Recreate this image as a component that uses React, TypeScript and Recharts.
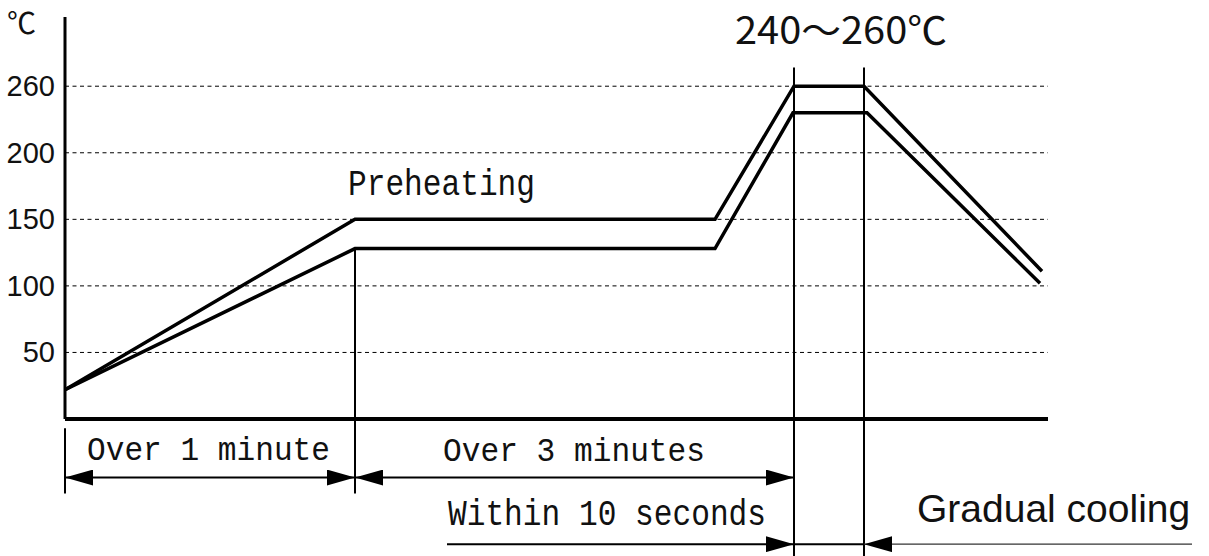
import React from 'react';
import { ComposedChart, Line, XAxis, YAxis, CartesianGrid, ReferenceLine } from 'recharts';

// schematic time units along the x axis, temperatures in °C
const upperTime = [0, 290, 650, 729, 799, 977];
const upperTemp = [22, 150, 150, 260, 260, 111];
const lowerTime = [0, 290, 650, 728, 802, 975];
const lowerTemp = [22, 128, 128, 236, 236, 102];
const tempTicks = [50, 100, 150, 200, 260];

// key times used by the dimension arrows
const preheatStart = 290;
const peakStart = 729;
const peakEnd = 799;
const withinStart = 382;
const coolingEnd = 1127;

// the drawing squeezes 200..260 into one grid step
const toAxis = (t: number) => (t <= 200 ? t : 200 + ((t - 200) * 50) / 60);
const fromAxis = (v: number) => Math.round(v <= 200 ? v : 200 + ((v - 200) * 60) / 50);

const upperData = upperTime.map((t, i) => ({ t, v: toAxis(upperTemp[i]) }));
const lowerData = lowerTime.map((t, i) => ({ t, v: toAxis(lowerTemp[i]) }));

// rows below the plot, in axis units
const rowOne = -44;
const rowTwo = -94;
const tickTop = -7;
const tickBottom = -56;
const lineBottom = -104;
const peakTop = 264;

const W = 1209;
const H = 556;

const monoFont = '"Liberation Mono", "DejaVu Sans Mono", monospace';

const TempTick = (props: any) => {
    const { x, y, payload } = props;
    return (
        <text x={x} y={y} textAnchor="end" dominantBaseline="central" fontSize={29} fontFamily='"Liberation Sans", Arial, sans-serif' fill="#111">
            {fromAxis(payload.value)}
        </text>
    );
};

const seg = (props: any, start?: boolean, end?: boolean, width = 2, color = '#000') => (
    <line
        x1={props.x1}
        y1={props.y1}
        x2={props.x2}
        y2={props.y2}
        stroke={color}
        strokeWidth={width}
        markerStart={start ? 'url(#arrowHead)' : undefined}
        markerEnd={end ? 'url(#arrowHead)' : undefined}
    />
);

export default function App() {
    return (
        <div style={{ position: 'absolute', left: 0, top: 0, width: W, height: H, background: '#fff' }}>
            <svg width={0} height={0} style={{ position: 'absolute' }}>
                <defs>
                    <marker id="arrowHead" viewBox="0 0 28 16" markerWidth={28} markerHeight={16} refX={28} refY={8} orient="auto-start-reverse" markerUnits="userSpaceOnUse">
                        <path d="M0,0 L28,8 L0,16 Z" fill="#000" />
                    </marker>
                </defs>
            </svg>
            <ComposedChart width={W} height={H} margin={{ top: 17, right: 161, bottom: 127, left: 55 }}>
                <CartesianGrid vertical={false} horizontalValues={tempTicks.map(toAxis)} stroke="#000" strokeDasharray="4 3.5" strokeWidth={1} />
                <XAxis type="number" dataKey="t" domain={[0, 983]} height={10} tick={false} tickLine={false} axisLine={{ stroke: '#000', strokeWidth: 4 }} allowDataOverflow />
                <YAxis
                    type="number"
                    domain={[0, 302]}
                    ticks={tempTicks.map(toAxis)}
                    interval={0}
                    width={10}
                    tickSize={0}
                    tickMargin={10}
                    tickLine={false}
                    tick={<TempTick />}
                    axisLine={{ stroke: '#000', strokeWidth: 3 }}
                />
                <Line data={upperData} dataKey="v" type="linear" stroke="#000" strokeWidth={3.5} dot={false} isAnimationActive={false} />
                <Line data={lowerData} dataKey="v" type="linear" stroke="#000" strokeWidth={3.5} dot={false} isAnimationActive={false} />

                {/* vertical marker lines */}
                <ReferenceLine ifOverflow="visible" segment={[{ x: 0, y: tickTop }, { x: 0, y: tickBottom }]} shape={(p: any) => seg(p)} />
                <ReferenceLine ifOverflow="visible" segment={[{ x: preheatStart, y: toAxis(lowerTemp[1]) }, { x: preheatStart, y: tickBottom }]} shape={(p: any) => seg(p)} />
                <ReferenceLine ifOverflow="visible" segment={[{ x: peakStart, y: peakTop }, { x: peakStart, y: lineBottom }]} shape={(p: any) => seg(p)} />
                <ReferenceLine ifOverflow="visible" segment={[{ x: peakEnd, y: peakTop }, { x: peakEnd, y: lineBottom }]} shape={(p: any) => seg(p)} />

                {/* dimension arrows */}
                <ReferenceLine ifOverflow="visible" segment={[{ x: 0, y: rowOne }, { x: preheatStart, y: rowOne }]} shape={(p: any) => seg(p, true, true)} />
                <ReferenceLine ifOverflow="visible" segment={[{ x: preheatStart, y: rowOne }, { x: peakStart, y: rowOne }]} shape={(p: any) => seg(p, true, true)} />
                <ReferenceLine ifOverflow="visible" segment={[{ x: withinStart, y: rowTwo }, { x: peakStart, y: rowTwo }]} shape={(p: any) => seg(p, false, true)} />
                <ReferenceLine ifOverflow="visible" segment={[{ x: peakStart, y: rowTwo }, { x: peakEnd, y: rowTwo }]} shape={(p: any) => seg(p)} />
                <ReferenceLine ifOverflow="visible" segment={[{ x: peakEnd, y: rowTwo }, { x: coolingEnd, y: rowTwo }]} shape={(p: any) => seg(p, true, false, 1.2, '#333')} />
            </ComposedChart>
            <svg width={W} height={H} style={{ position: 'absolute', left: 0, top: 0, pointerEvents: 'none' }}>
                <text x={7} y={34} fontSize={29} fontFamily='"Noto Sans CJK JP", sans-serif' fill="#111">℃</text>
                <text x={735} y={44} fontSize={38} fontFamily='"Noto Sans CJK JP", sans-serif' fill="#111" textLength={212} lengthAdjust="spacingAndGlyphs">240～260℃</text>
                <text x={348} y={195} fontSize={36} fontFamily={monoFont} fill="#111" textLength={187} lengthAdjust="spacingAndGlyphs">Preheating</text>
                <text x={87} y={460} fontSize={34} fontFamily={monoFont} fill="#111" textLength={243} lengthAdjust="spacingAndGlyphs">Over 1 minute</text>
                <text x={443} y={461} fontSize={34} fontFamily={monoFont} fill="#111" textLength={262} lengthAdjust="spacingAndGlyphs">Over 3 minutes</text>
                <text x={448} y={525} fontSize={36} fontFamily={monoFont} fill="#111" textLength={318} lengthAdjust="spacingAndGlyphs">Within 10 seconds</text>
                <text x={917} y={522} fontSize={39} fontFamily='"Liberation Sans", Arial, sans-serif' fill="#111">Gradual cooling</text>
            </svg>
        </div>
    );
}
